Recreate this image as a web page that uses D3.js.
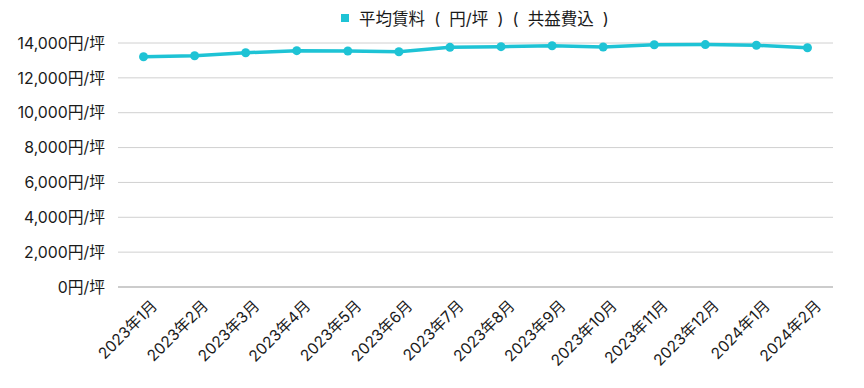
<!DOCTYPE html>
<html>
<head>
<meta charset="utf-8">
<script src="https://cdn.jsdelivr.net/npm/d3@7"></script>
<style>
  body { margin: 0; background: #fff; }
  svg { display: block; font-family: Inter, "Noto Sans CJK JP", sans-serif; }
</style>
</head>
<body>
<div id="chart"></div>
<script>
'use strict';

// months on the x axis
var months = ['2023年1月', '2023年2月', '2023年3月', '2023年4月', '2023年5月', '2023年6月',
  '2023年7月', '2023年8月', '2023年9月', '2023年10月', '2023年11月', '2023年12月',
  '2024年1月', '2024年2月'];

// average rent (yen per tsubo, incl. common charges)
var rent = [13210, 13270, 13440, 13560, 13540, 13500, 13750, 13790, 13840, 13770,
  13900, 13910, 13870, 13730];

var yTicks = [0, 2000, 4000, 6000, 8000, 10000, 12000, 14000];
var seriesName = '平均賃料 ( 円/坪 ) ( 共益費込 )';
var color = '#1ec3d5';

var w = 864
  , h = 388
  , margin = { top: 43, right: 31, bottom: 101, left: 118 };

var svg = d3.select('#chart')
  .append('svg')
    .attr('width', w)
    .attr('height', h);

var x = d3.scaleBand()
  .domain(months)
  .range([margin.left, w - margin.right]);

var y = d3.scaleLinear()
  .domain([0, 14000])
  .range([h - margin.bottom, margin.top]);

// grid lines
svg.append('g')
  .selectAll('line')
  .data(yTicks)
  .enter().append('line')
    .attr('x1', margin.left)
    .attr('x2', w - margin.right)
    .attr('y1', function (d) { return y(d); })
    .attr('y2', function (d) { return y(d); })
    .style('stroke', function (d) { return d === 0 ? '#999' : '#d0d0d0'; })
    .style('stroke-width', 1);

// y labels
svg.append('g')
  .selectAll('text')
  .data(yTicks)
  .enter().append('text')
    .attr('x', margin.left - 13)
    .attr('y', function (d) { return y(d); })
    .attr('dy', '0.36em')
    .style('text-anchor', 'end')
    .style('font-size', '15.8px')
    .style('fill', '#1a1a1a')
    .text(function (d) { return d3.format(',')(d) + '円/坪'; });

// x labels, rotated
svg.append('g')
  .selectAll('text')
  .data(months)
  .enter().append('text')
    .attr('transform', function (d) {
      return 'translate(' + (x(d) + x.bandwidth() / 2 + 7) + ',' + (h - margin.bottom + 12) + ') rotate(-45)';
    })
    .attr('dy', '0.7em')
    .style('text-anchor', 'end')
    .style('font-size', '15.5px')
    .style('fill', '#1a1a1a')
    .text(function (d) { return d; });

// line
var line = d3.line()
  .x(function (d, i) { return x(months[i]) + x.bandwidth() / 2; })
  .y(function (d) { return y(d); });

svg.append('path')
  .datum(rent)
  .attr('d', line)
  .style('fill', 'none')
  .style('stroke', color)
  .style('stroke-width', 3.5);

svg.append('g')
  .selectAll('circle')
  .data(rent)
  .enter().append('circle')
    .attr('cx', function (d, i) { return x(months[i]) + x.bandwidth() / 2; })
    .attr('cy', function (d) { return y(d); })
    .attr('r', 4.5)
    .style('fill', color);

// legend
var legend = svg.append('g')
  .attr('transform', 'translate(341,14)');
legend.append('rect')
  .attr('width', 8)
  .attr('height', 8)
  .style('fill', color);
legend.append('text')
  .attr('x', 18)
  .attr('y', 5)
  .attr('dy', '0.36em')
  .attr('xml:space', 'preserve')
  .style('font-size', '16.5px')
  .style('word-spacing', '4.5px')
  .style('fill', '#1a1a1a')
  .text(seriesName);
</script>
</body>
</html>
